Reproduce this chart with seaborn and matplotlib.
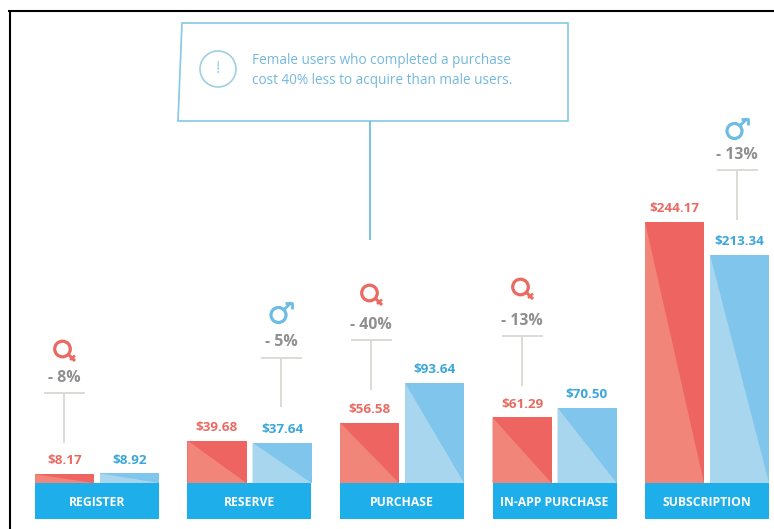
import matplotlib
matplotlib.use("Agg")
import matplotlib.pyplot as plt
from matplotlib.patches import Circle, Polygon
from matplotlib.transforms import Affine2D
import pandas as pd
import seaborn as sns

# Cost per acquisition by funnel event and gender
events = ["REGISTER", "RESERVE", "PURCHASE", "IN-APP PURCHASE", "SUBSCRIPTION"]
female_cost = [8.17, 39.68, 56.58, 61.29, 244.17]
male_cost = [8.92, 37.64, 93.64, 70.50, 213.34]
cheaper_gender = ["F", "M", "F", "F", "M"]
savings = ["- 8%", "- 5%", "- 40%", "- 13%", "- 13%"]
callout_lines = ["Female users who completed a purchase",
                 "cost 40% less to acquire than male users."]

W, H = 774, 529
RED, RED_LIGHT = "#ee6460", "#f2857a"
BLUE, BLUE_LIGHT = "#80c6ec", "#a9d6ef"
BAND = "#1eaeea"
RED_TEXT, BLUE_TEXT = "#ea6a62", "#3ba6dc"
ICON_BLUE = "#6dbce6"
GREY_TEXT, GREY_LINE = "#8f8f8f", "#dcdcd6"
BOX_LINE = "#86c8e6"

sns.set_theme(style="white")
plt.rcParams["font.family"] = ["Open Sans", "DejaVu Sans"]

fig = plt.figure(figsize=(W / 100, H / 100), dpi=100, facecolor="white")
ax = fig.add_axes([0, 0, 1, 1])

# Axis limits: 152.5 px per event, 1.069 px per dollar, baseline 46 px above the bottom
ax_px_x, ax_px_y = 152.5, 1.069
table = pd.DataFrame({
    "event": events * 2,
    "gender": ["Female"] * len(events) + ["Male"] * len(events),
    "cost": female_cost + male_cost,
})
sns.barplot(data=table, x="event", y="cost", hue="gender", order=events,
            hue_order=["Female", "Male"], palette=[RED, BLUE], width=130 / ax_px_x,
            gap=6 / 65, dodge=True, legend=False, errorbar=None, saturation=1,
            linewidth=0, ax=ax, zorder=2)
ax.set_xlim(-97 / ax_px_x, (W - 97) / ax_px_x)
ax.set_ylim(-46 / ax_px_y, (H - 46) / ax_px_y)
ax.axis("off")

# Lighter lower-left triangle on every bar, and the value above it
for container, light, color, values in zip(ax.containers, [RED_LIGHT, BLUE_LIGHT],
                                           [RED_TEXT, BLUE_TEXT], [female_cost, male_cost]):
    for bar in container:
        x0, w, h = bar.get_x(), bar.get_width(), bar.get_height()
        ax.add_patch(Polygon([(x0, h), (x0 + w, 0), (x0, 0)], closed=True,
                             facecolor=light, edgecolor="none", linewidth=0, zorder=3))
    ax.bar_label(container, labels=[f"${v:.2f}" for v in values], padding=5,
                 color=color, fontsize=9.7, fontweight="bold", zorder=5)

# Event name bands under the baseline
band_depth = 36 / ax_px_y
ax.bar(range(len(events)), [-band_depth] * len(events), width=124 / ax_px_x,
       color=BAND, linewidth=0, zorder=4)
for i, name in enumerate(events):
    ax.text(i, -band_depth * 0.53, name, color="white", fontsize=8.7, fontweight="bold",
            ha="center", va="center", zorder=5)

# Remaining decoration is laid out in pixels from the top-left corner
px = Affine2D().scale(1, -1).translate(0, H)


def line(xs, ys, color, lw=1.0, **kw):
    ax.plot(xs, ys, color=color, lw=lw, transform=px, clip_on=False,
            solid_capstyle="butt", **kw)


def female_icon(cx, cy):
    ax.add_patch(Circle((cx - 1.5, cy - 1), 7.8, transform=px, fill=False,
                        edgecolor=RED_TEXT, lw=2.3))
    line([cx + 4.5, cx + 11], [cy + 4.5, cy + 11], RED_TEXT, 2.2)
    line([cx + 6, cx + 11], [cy + 10, cy + 5.5], RED_TEXT, 1.8)


def male_icon(cx, cy):
    ax.add_patch(Circle((cx - 2.5, cy + 3), 7.5, transform=px, fill=False,
                        edgecolor=ICON_BLUE, lw=2.3))
    line([cx + 3, cx + 10.5], [cy - 2.5, cy - 9.5], ICON_BLUE, 2.0)
    line([cx + 4, cx + 11, cx + 11], [cy - 9.5, cy - 9.5, cy - 3], ICON_BLUE, 2.0)


# Icon centre, percentage, cap and stem of each comparison marker
markers = [
    (64, 350, 378, 393, 443),
    (281, 312, 342, 358, 407),
    (371, 294, 325, 340, 390),
    (522, 288, 321, 336, 386),
    (737, 128, 155, 170, 220),
]
for (cx, icon_y, pct_y, cap_y, stem_end), who, pct in zip(markers, cheaper_gender, savings):
    (female_icon if who == "F" else male_icon)(cx, icon_y)
    ax.text(cx, pct_y, pct, transform=px, color=GREY_TEXT, fontsize=11.4, fontweight="bold",
            ha="center", va="center")
    line([cx - 20.5, cx + 20.5], [cap_y, cap_y], GREY_LINE, 1.4)
    line([cx, cx], [cap_y, stem_end], GREY_LINE, 1.4)

# Callout box and its leader
ax.add_patch(Polygon([(182, 23), (568, 23), (568, 121), (178, 121)], closed=True, transform=px,
                     fill=False, edgecolor=BOX_LINE, lw=1.2))
line([370, 370], [121, 240], "#6fbde2", 1.3)
ax.add_patch(Circle((218, 69), 18, transform=px, fill=False, edgecolor="#9fcfe4", lw=1.2))
ax.text(218, 69, "!", transform=px, color="#9fcfe4", fontsize=12, ha="center", va="center")
for text, y in zip(callout_lines, [60, 81]):
    ax.text(252, y, text, transform=px, color="#74b8de", fontsize=9.8, ha="left", va="center")

# Black frame along the top and left edges
line([8, W], [10.5, 10.5], "black", 1.5)
line([9.5, 9.5], [10, H], "black", 1.5)

fig.savefig("out.png", dpi=100, facecolor="white")
